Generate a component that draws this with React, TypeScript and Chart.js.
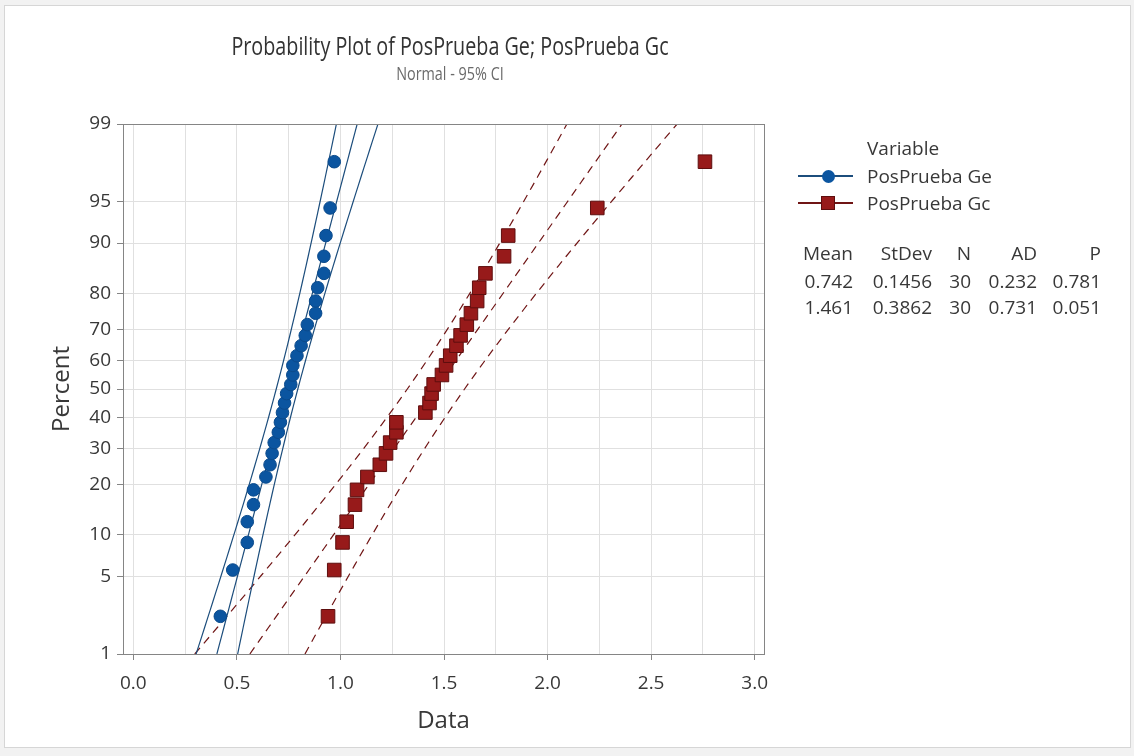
import React, { useEffect, useRef } from "react";
import { Chart, registerables } from "chart.js";

Chart.register(...registerables);

// ---------- data ----------
const PERCENTS = [
  2.3, 5.6, 8.9, 12.2, 15.5, 18.8, 22.0, 25.3, 28.6, 31.9,
  35.2, 38.5, 41.8, 45.1, 48.4, 51.6, 54.9, 58.2, 61.5, 64.8,
  68.1, 71.4, 74.7, 78.0, 81.3, 84.5, 87.8, 91.1, 94.4, 97.7,
];
const GE_VALUES = [
  0.42, 0.48, 0.55, 0.55, 0.58, 0.58, 0.64, 0.66, 0.67, 0.68,
  0.70, 0.71, 0.72, 0.73, 0.74, 0.76, 0.77, 0.77, 0.79, 0.81,
  0.83, 0.84, 0.88, 0.88, 0.89, 0.92, 0.92, 0.93, 0.95, 0.97,
];
const GC_VALUES = [
  0.94, 0.97, 1.01, 1.03, 1.07, 1.08, 1.13, 1.19, 1.22, 1.24,
  1.27, 1.27, 1.41, 1.43, 1.44, 1.45, 1.49, 1.51, 1.53, 1.56,
  1.58, 1.61, 1.63, 1.66, 1.67, 1.70, 1.79, 1.81, 2.24, 2.76,
];
const SERIES_NAMES = ["PosPrueba Ge", "PosPrueba Gc"];
const MEANS = [0.742, 1.461];
const STDEVS = [0.1456, 0.3862];
const COUNTS = [30, 30];
const TABLE_HEAD = ["Mean", "StDev", "N", "AD", "P"];
const TABLE_ROWS = [
  ["0.742", "0.1456", "30", "0.232", "0.781"],
  ["1.461", "0.3862", "30", "0.731", "0.051"],
];
const Y_TICKS = [1, 5, 10, 20, 30, 40, 50, 60, 70, 80, 90, 95, 99];
const X_TICKS = [0, 0.25, 0.5, 0.75, 1, 1.25, 1.5, 1.75, 2, 2.25, 2.5, 2.75, 3];
const X_LABEL_TICKS = [0, 0.5, 1, 1.5, 2, 2.5, 3];
const TITLE = "Probability Plot of PosPrueba Ge; PosPrueba Gc";
const SUBTITLE = "Normal - 95% CI";

// ---------- helpers ----------
function probit(p: number): number {
  const a = [-3.969683028665376e1, 2.209460984245205e2, -2.759285104469687e2, 1.38357751867269e2, -3.066479806614716e1, 2.506628277459239];
  const b = [-5.447609879822406e1, 1.615858368580409e2, -1.556989798598866e2, 6.680131188771972e1, -1.328068155288572e1];
  const c = [-7.784894002430293e-3, -3.223964580411365e-1, -2.400758277161838, -2.549732539343734, 4.374664141464968, 2.938163982698783];
  const d = [7.784695709041462e-3, 3.224671290700398e-1, 2.445134137142996, 3.754408661907416];
  const pl = 0.02425;
  if (p < pl) {
    const q = Math.sqrt(-2 * Math.log(p));
    return (((((c[0] * q + c[1]) * q + c[2]) * q + c[3]) * q + c[4]) * q + c[5]) / ((((d[0] * q + d[1]) * q + d[2]) * q + d[3]) * q + 1);
  }
  if (p <= 1 - pl) {
    const q = p - 0.5;
    const r = q * q;
    return ((((((a[0] * r + a[1]) * r + a[2]) * r + a[3]) * r + a[4]) * r + a[5]) * q) / (((((b[0] * r + b[1]) * r + b[2]) * r + b[3]) * r + b[4]) * r + 1);
  }
  const q = Math.sqrt(-2 * Math.log(1 - p));
  return -(((((c[0] * q + c[1]) * q + c[2]) * q + c[3]) * q + c[4]) * q + c[5]) / ((((d[0] * q + d[1]) * q + d[2]) * q + d[3]) * q + 1);
}

const Z_MIN = probit(Y_TICKS[0] / 100);
const Z_MAX = probit(Y_TICKS[Y_TICKS.length - 1] / 100);

function fitLines(mean: number, sd: number, n: number) {
  const fit: { x: number; y: number }[] = [];
  const lo: { x: number; y: number }[] = [];
  const hi: { x: number; y: number }[] = [];
  const steps = 60;
  for (let i = 0; i <= steps; i++) {
    const z = Z_MIN + ((Z_MAX - Z_MIN) * i) / steps;
    const x = mean + z * sd;
    const se = sd * Math.sqrt(1 / n + (z * z) / (2 * n));
    fit.push({ x, y: z });
    lo.push({ x: x - 1.959964 * se, y: z });
    hi.push({ x: x + 1.959964 * se, y: z });
  }
  return { fit, lo, hi };
}

const BLUE = "#0b55a0";
const BLUE_LINE = "#1c4d7c";
const RED = "#971a1a";
const RED_LINE = "#701515";
const TEXT = "#383838";
const FONT = "'Open Sans', 'Noto Sans', sans-serif";

const framePlugin = {
  id: "frame",
  beforeDraw(chart: any) {
    const { ctx, width, height } = chart;
    ctx.save();
    ctx.fillStyle = "#f2f2f2";
    ctx.fillRect(0, 0, width, height);
    ctx.fillStyle = "#ffffff";
    ctx.fillRect(4, 5, 1126, 743);
    ctx.strokeStyle = "#d6d6d6";
    ctx.lineWidth = 1;
    ctx.strokeRect(4.5, 5.5, 1126, 742);
    ctx.restore();
  },
  afterDatasetsDraw(chart: any) {
    const { ctx, chartArea } = chart;
    ctx.save();
    ctx.strokeStyle = "#858585";
    ctx.lineWidth = 1;
    ctx.strokeRect(
      Math.round(chartArea.left) + 0.5,
      Math.round(chartArea.top) + 0.5,
      Math.round(chartArea.right - chartArea.left),
      Math.round(chartArea.bottom - chartArea.top)
    );
    ctx.restore();
  },
};

export default function App() {
  const canvasRef = useRef<HTMLCanvasElement | null>(null);

  useEffect(() => {
    const canvas = canvasRef.current;
    if (!canvas) return;
    const ge = fitLines(MEANS[0], STDEVS[0], COUNTS[0]);
    const gc = fitLines(MEANS[1], STDEVS[1], COUNTS[1]);
    const toPts = (vals: number[]) => vals.map((v, i) => ({ x: v, y: probit(PERCENTS[i] / 100) }));
    const lineDs = (data: any[], color: string, dash: number[]) => ({
      type: "line" as const,
      data,
      borderColor: color,
      borderWidth: 1.2,
      borderDash: dash,
      pointRadius: 0,
      fill: false,
      tension: 0,
      order: 2,
    });

    const chart = new Chart(canvas, {
      type: "scatter",
      data: {
        datasets: [
          {
            label: SERIES_NAMES[0],
            data: toPts(GE_VALUES),
            pointStyle: "circle",
            pointRadius: 6.3,
            backgroundColor: BLUE,
            borderColor: "#0a4a8c",
            borderWidth: 1,
            order: 0,
          } as any,
          {
            label: SERIES_NAMES[1],
            data: toPts(GC_VALUES),
            pointStyle: "rect",
            pointRadius: 9.6,
            backgroundColor: RED,
            borderColor: "#5e0e0e",
            borderWidth: 1,
            order: 0,
          } as any,
          lineDs(ge.fit, BLUE_LINE, []),
          lineDs(ge.lo, BLUE_LINE, []),
          lineDs(ge.hi, BLUE_LINE, []),
          lineDs(gc.fit, RED_LINE, [8, 6]),
          lineDs(gc.lo, RED_LINE, [8, 6]),
          lineDs(gc.hi, RED_LINE, [8, 6]),
        ],
      },
      options: {
        responsive: false,
        animation: false,
        events: [],
        layout: { padding: { left: 43, top: 124, right: 370, bottom: 0 } },
        plugins: {
          legend: { display: false },
          tooltip: { enabled: false },
          title: { display: false },
        },
        scales: {
          x: {
            type: "linear",
            min: -0.05,
            max: 3.045,
            afterFit: (s: any) => {
              s.height = 102;
            },
            afterBuildTicks: (s: any) => {
              s.ticks = X_TICKS.map((v) => ({ value: v }));
            },
            ticks: {
              autoSkip: false,
              maxRotation: 0,
              padding: 12,
              color: TEXT,
              font: { family: FONT, size: 19 },
              callback: (v: any) => (X_LABEL_TICKS.includes(Number(v)) ? Number(v).toFixed(1) : ""),
            },
            grid: {
              color: "#e0e0e0",
              lineWidth: 1,
              tickLength: 6,
              tickColor: (ctx: any) =>
                ctx.tick && X_LABEL_TICKS.includes(ctx.tick.value) ? "#858585" : "rgba(0,0,0,0)",
            },
            border: { color: "#858585", width: 1 },
            title: {
              display: true,
              text: "Data",
              color: TEXT,
              font: { family: FONT, size: 24, lineHeight: 1.2 },
              padding: { top: 0, bottom: 20 },
            },
          },
          y: {
            type: "linear",
            min: Z_MIN,
            max: Z_MAX,
            afterFit: (s: any) => {
              s.width = 80;
            },
            afterBuildTicks: (s: any) => {
              s.ticks = Y_TICKS.map((p) => ({ value: probit(p / 100) }));
            },
            ticks: {
              autoSkip: false,
              padding: 6,
              color: TEXT,
              font: { family: FONT, size: 19 },
              callback: (_v: any, i: number) => String(Y_TICKS[i]),
            },
            grid: { color: "#e0e0e0", lineWidth: 1, tickLength: 6, tickColor: "#858585" },
            border: { color: "#858585", width: 1 },
            title: {
              display: true,
              text: "Percent",
              color: TEXT,
              font: { family: FONT, size: 24, lineHeight: 1.2 },
              padding: { top: 5, bottom: 0 },
            },
          },
        },
      },
      plugins: [framePlugin],
    } as any);
    return () => chart.destroy();
  }, []);

  const colRights = [853, 932, 971, 1037, 1101];
  const rowYs = [253, 281, 307];
  const textStyle: React.CSSProperties = {
    position: "absolute",
    fontFamily: FONT,
    fontSize: 19,
    color: TEXT,
    whiteSpace: "nowrap",
    lineHeight: "24px",
  };

  const cell = (txt: string, right: number, cy: number, key: string) => (
    <div key={key} style={{ ...textStyle, left: right - 120, width: 120, textAlign: "right", top: cy - 12 }}>
      {txt}
    </div>
  );

  return (
    <div style={{ position: "absolute", left: 0, top: 0, width: 1134, height: 756, overflow: "hidden" }}>
      <canvas ref={canvasRef} width={1134} height={756} style={{ width: 1134, height: 756, display: "block" }} />
      <div
        style={{
          position: "absolute",
          left: 0,
          width: 900,
          top: 28,
          textAlign: "center",
          fontFamily: FONT,
          fontSize: 25,
          lineHeight: "34px",
          color: "#333",
          whiteSpace: "nowrap",
          transform: "scaleX(0.79)",
          transformOrigin: "450px 50%",
        }}
      >
        {TITLE}
      </div>
      <div
        style={{
          position: "absolute",
          left: 0,
          width: 900,
          top: 61,
          textAlign: "center",
          fontFamily: FONT,
          fontSize: 18,
          lineHeight: "24px",
          color: "#6a6a6a",
          whiteSpace: "nowrap",
          transform: "scaleX(0.8)",
          transformOrigin: "450px 50%",
        }}
      >
        {SUBTITLE}
      </div>
      {/* legend */}
      <div style={{ ...textStyle, left: 867, top: 148 - 12 }}>Variable</div>
      <div style={{ position: "absolute", left: 798, top: 175, width: 55, height: 1.5, background: BLUE_LINE }} />
      <div
        style={{
          position: "absolute",
          left: 821.5,
          top: 169.5,
          width: 13,
          height: 13,
          borderRadius: 7,
          background: BLUE,
        }}
      />
      <div style={{ ...textStyle, left: 867, top: 176 - 12 }}>{SERIES_NAMES[0]}</div>
      <div style={{ position: "absolute", left: 798, top: 202, width: 55, height: 1.5, background: RED_LINE }} />
      <div
        style={{
          position: "absolute",
          left: 821,
          top: 195.5,
          width: 12,
          height: 12,
          background: RED,
          border: "1px solid #5e0e0e",
        }}
      />
      <div style={{ ...textStyle, left: 867, top: 203 - 12 }}>{SERIES_NAMES[1]}</div>
      {TABLE_HEAD.map((h, i) => cell(h, colRights[i], rowYs[0], "h" + i))}
      {TABLE_ROWS.map((row, r) => row.map((t, i) => cell(t, colRights[i], rowYs[r + 1], `r${r}c${i}`)))}
    </div>
  );
}
